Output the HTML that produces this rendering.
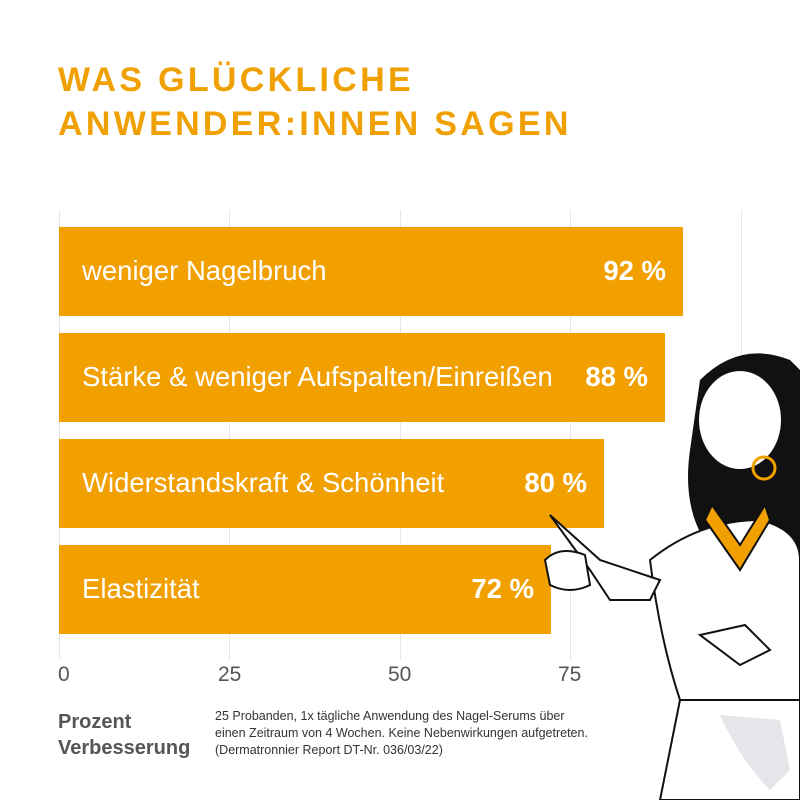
<!DOCTYPE html>
<html><head><meta charset="utf-8"><style>
html,body{margin:0;padding:0}
body{width:800px;height:800px;position:relative;background:#fff;font-family:"Liberation Sans",sans-serif;overflow:hidden}
.t{position:absolute;left:58px;color:#f0a000;font-weight:bold;font-size:34px;letter-spacing:3.3px}
.g{position:absolute;top:210px;height:450px;width:1px;background:#e6e6e6}
.b{position:absolute;left:59px;height:89px;background:#f29f00;color:#fff;font-size:27.5px}
.b .l{position:absolute;left:23px;top:28px}
.b .v{position:absolute;right:17px;top:28px;font-weight:bold}
.tk{position:absolute;top:663px;font-size:21px;color:#555}
</style></head><body>
<div class="t" style="top:61px">WAS GLÜCKLICHE</div>
<div class="t" style="top:105px">ANWENDER:INNEN SAGEN</div>
<div class="g" style="left:59px"></div><div class="g" style="left:229px"></div><div class="g" style="left:400px"></div><div class="g" style="left:570px"></div><div class="g" style="left:741px"></div>
<div class="b" style="top:227px;width:624px"><span class="l">weniger Nagelbruch</span><span class="v">92 %</span></div>
<div class="b" style="top:333px;width:606px"><span class="l">Stärke &amp; weniger Aufspalten/Einreißen</span><span class="v">88 %</span></div>
<div class="b" style="top:439px;width:545px"><span class="l">Widerstandskraft &amp; Schönheit</span><span class="v">80 %</span></div>
<div class="b" style="top:545px;width:492px"><span class="l">Elastizität</span><span class="v">72 %</span></div>
<div class="tk" style="left:58px">0</div><div class="tk" style="left:218px">25</div><div class="tk" style="left:388px">50</div><div class="tk" style="left:558px">75</div>
<div style="position:absolute;left:58px;top:709px;font-size:20px;line-height:26px;color:#555;font-weight:bold">Prozent<br>Verbesserung</div>
<div style="position:absolute;left:215px;top:708px;font-size:12.5px;line-height:17px;color:#333">25 Probanden, 1x tägliche Anwendung des Nagel-Serums über<br>einen Zeitraum von 4 Wochen. Keine Nebenwirkungen aufgetreten.<br>(Dermatronnier Report DT-Nr. 036/03/22)</div>
<svg style="position:absolute;left:0;top:0" width="800" height="800">
<path d="M700 380 Q740 340 790 360 L800 370 L800 600 L720 560 Q680 520 690 450 Z" fill="#111"/>
<ellipse cx="740" cy="420" rx="42" ry="50" fill="#fff" stroke="#111" stroke-width="2"/>
<circle cx="764" cy="468" r="11" fill="none" stroke="#f29f00" stroke-width="3"/>
<path d="M650 560 Q700 520 760 520 Q800 530 800 560 L800 700 L680 700 Q660 640 650 560 Z" fill="#fff" stroke="#111" stroke-width="2"/>
<path d="M705 520 L740 570 L770 520 L765 505 L740 545 L712 505 Z" fill="#f29f00" stroke="#111" stroke-width="2"/>
<path d="M550 515 L590 570 L610 600 L650 600 L660 580 L600 560 Z" fill="#fff" stroke="#111" stroke-width="2"/>
<path d="M545 560 Q560 545 585 555 L590 585 Q570 595 550 585 Z" fill="#fff" stroke="#111" stroke-width="2"/>
<path d="M700 635 L745 625 L770 650 L740 665 Z" fill="#fff" stroke="#111" stroke-width="2"/>
<path d="M680 700 L800 700 L800 800 L660 800 Z" fill="#fff" stroke="#111" stroke-width="2"/>
<path d="M720 715 Q740 760 770 790 L790 770 L780 720 Z" fill="#e6e6ea"/>
</svg>
</body></html>
